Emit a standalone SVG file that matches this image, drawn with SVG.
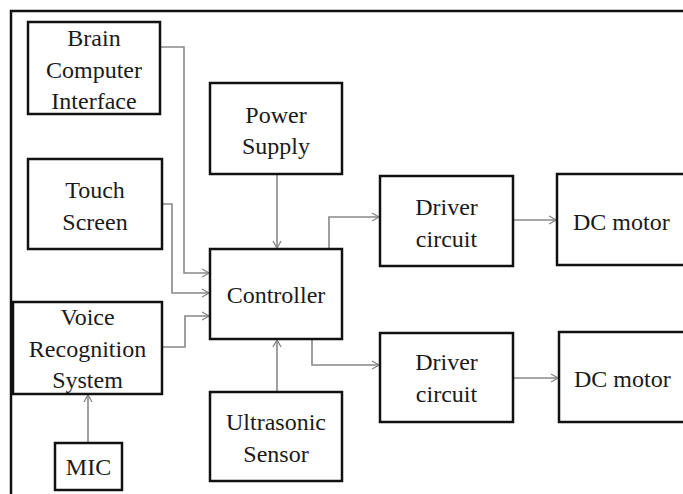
<svg xmlns="http://www.w3.org/2000/svg" width="683" height="494" viewBox="0 0 683 494">
<defs>
<style>
.box{fill:#fff;stroke:#111;stroke-width:2.5}
.lbl{font-family:"Liberation Serif","Times New Roman",serif;font-size:24px;fill:#1a1a1a;text-anchor:middle}
.conn{fill:none;stroke:#888;stroke-width:1.6}
</style>
<marker id="arr" markerUnits="userSpaceOnUse" markerWidth="10" markerHeight="10" refX="8" refY="5" orient="auto">
<path d="M1,1 L8,5 L1,9" fill="none" stroke="#888" stroke-width="1.4"/>
</marker>
</defs>
<rect width="683" height="494" fill="#fff"/>
<path d="M11,494 V11 H683" fill="none" stroke="#111" stroke-width="2.5"/>
<g id="connectors">
<path class="conn" d="M160,47 H184 V273 H209" marker-end="url(#arr)"/>
<path class="conn" d="M162,204 H172 V293 H209" marker-end="url(#arr)"/>
<path class="conn" d="M162,347 H185 V316 H209" marker-end="url(#arr)"/>
<path class="conn" d="M277,174 V248" marker-end="url(#arr)"/>
<path class="conn" d="M277,392 V340" marker-end="url(#arr)"/>
<path class="conn" d="M88,443 V395" marker-end="url(#arr)"/>
<path class="conn" d="M329,249 V217 H379" marker-end="url(#arr)"/>
<path class="conn" d="M312,339 V365 H379" marker-end="url(#arr)"/>
<path class="conn" d="M513,220 H556" marker-end="url(#arr)"/>
<path class="conn" d="M513,378 H558" marker-end="url(#arr)"/>
</g>
<g id="bci"><rect class="box" x="28" y="22" width="132" height="92"/>
<text class="lbl" x="94" y="46">Brain</text><text class="lbl" x="94" y="78">Computer</text><text class="lbl" x="94" y="109">Interface</text></g>
<g id="touch"><rect class="box" x="28" y="159" width="134" height="90"/>
<text class="lbl" x="95" y="198">Touch</text><text class="lbl" x="95" y="230">Screen</text></g>
<g id="voice"><rect class="box" x="13" y="302" width="149" height="92"/>
<text class="lbl" x="87.5" y="325">Voice</text><text class="lbl" x="87.5" y="357">Recognition</text><text class="lbl" x="87.5" y="388">System</text></g>
<g id="mic"><rect class="box" x="55" y="443" width="67" height="47"/>
<text class="lbl" x="88.5" y="475">MIC</text></g>
<g id="power"><rect class="box" x="210" y="83" width="132" height="91"/>
<text class="lbl" x="276" y="123">Power</text><text class="lbl" x="276" y="154">Supply</text></g>
<g id="controller"><rect class="box" x="210" y="249" width="132" height="90"/>
<text class="lbl" x="276" y="303">Controller</text></g>
<g id="ultrasonic"><rect class="box" x="210" y="392" width="132" height="89"/>
<text class="lbl" x="276" y="430">Ultrasonic</text><text class="lbl" x="276" y="462">Sensor</text></g>
<g id="driver1"><rect class="box" x="380" y="176" width="133" height="90"/>
<text class="lbl" x="446.5" y="215">Driver</text><text class="lbl" x="446.5" y="247">circuit</text></g>
<g id="driver2"><rect class="box" x="380" y="333" width="133" height="89"/>
<text class="lbl" x="446.5" y="370">Driver</text><text class="lbl" x="446.5" y="402">circuit</text></g>
<g id="dc1"><rect class="box" x="557" y="174" width="140" height="91"/>
<text class="lbl" x="573" y="230" style="text-anchor:start">DC motor</text></g>
<g id="dc2"><rect class="box" x="559" y="332" width="140" height="90"/>
<text class="lbl" x="574" y="387" style="text-anchor:start">DC motor</text></g>
</svg>
